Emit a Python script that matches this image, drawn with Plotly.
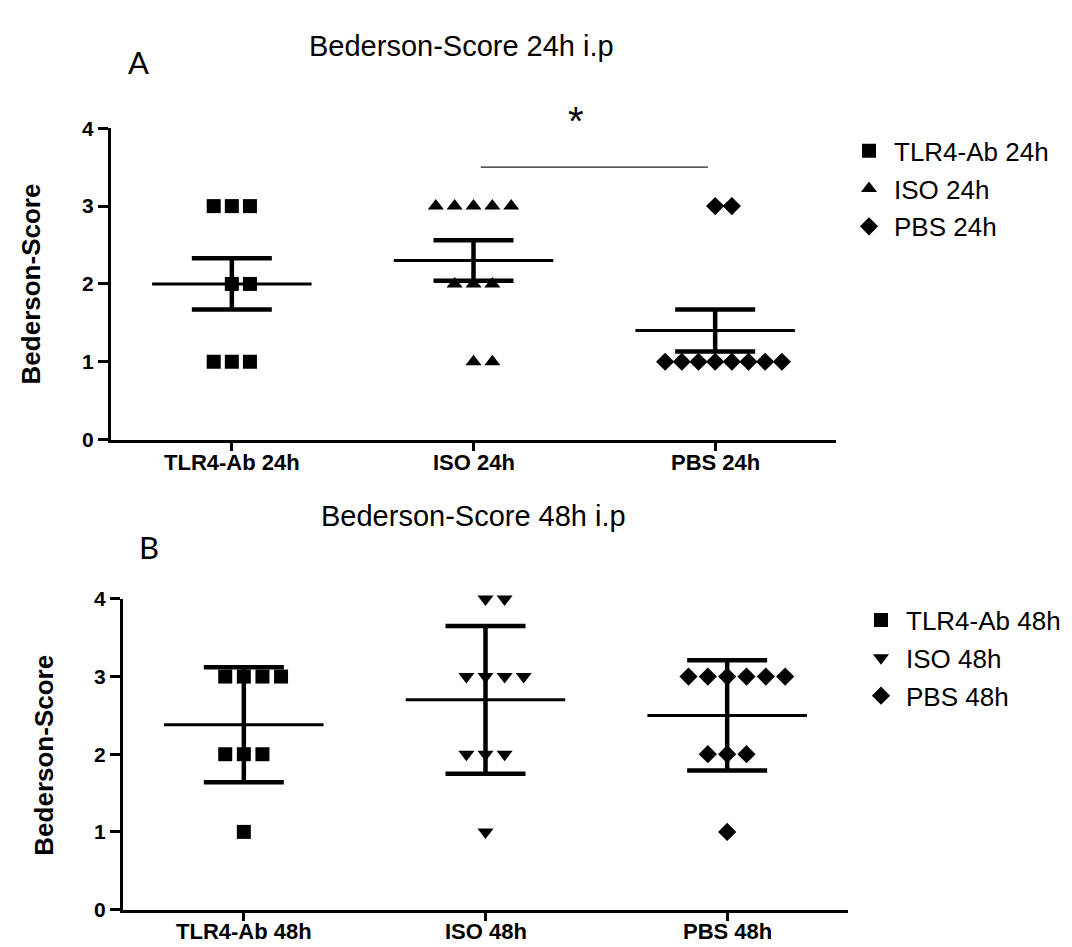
import plotly.graph_objects as go

# ---------------- data ----------------
groups_A = ["TLR4-Ab 24h", "ISO 24h", "PBS 24h"]
groups_B = ["TLR4-Ab 48h", "ISO 48h", "PBS 48h"]
ticks_y = [0, 1, 2, 3, 4]

tlr4_24 = [3, 3, 3, 2, 2, 1, 1, 1]
iso_24 = [3, 3, 3, 3, 3, 2, 2, 2, 1, 1]
pbs_24 = [3, 3, 1, 1, 1, 1, 1, 1, 1, 1]
mean_24 = [2.0, 2.3, 1.4]
sem_24 = [0.33, 0.26, 0.27]

tlr4_48 = [3, 3, 3, 3, 2, 2, 2, 1]
iso_48 = [4, 4, 3, 3, 3, 3, 2, 2, 2, 1]
pbs_48 = [3, 3, 3, 3, 3, 3, 2, 2, 2, 1]
mean_48 = [2.38, 2.7, 2.5]
sd_48 = [0.74, 0.95, 0.71]

sig_pair_A = [1, 2]   # ISO 24h vs PBS 24h
sig_level_A = 3.5
sig_text_A = "*"

# ---------------- helpers ----------------
def spread(values, center, step):
    xs, ys = [], []
    seen = {}
    for v in values:
        seen[v] = seen.get(v, 0) + 1
    idx = {}
    for v in values:
        n = seen[v]
        i = idx.get(v, 0)
        idx[v] = i + 1
        xs.append(center + (i - (n - 1) // 2) * step)
        ys.append(v)
    return xs, ys

FONT = "Liberation Sans, Arial, sans-serif"
fig = go.Figure()

symbols_A = ["square", "triangle-up", "diamond"]
symbols_B = ["square", "triangle-down", "diamond"]
sizes = {"square": 14, "triangle-up": 14, "triangle-down": 14, "diamond": 14}

def add_panel(groups, data, means, errs, symbols, xa, ya, legend, step):
    for i, (g, vals, sym) in enumerate(zip(groups, data, symbols)):
        xs, ys = spread(vals, i, step[i])
        fig.add_trace(go.Scatter(
            x=xs, y=ys, mode="markers", name=g,
            marker=dict(symbol=sym, size=sizes[sym], color="black",
                        line=dict(width=0)),
            xaxis=xa, yaxis=ya, legend=legend, cliponaxis=False,
            legendgroup=legend + g,
        ))
    # error bars
    fig.add_trace(go.Scatter(
        x=list(range(len(groups))), y=means, mode="markers",
        marker=dict(size=1, color="rgba(0,0,0,0)"),
        error_y=dict(type="data", array=errs, symmetric=True,
                     color="black", thickness=4.5, width=40),
        xaxis=xa, yaxis=ya, showlegend=False, hoverinfo="skip",
    ))
    # mean lines
    lx, ly = [], []
    for i, m in enumerate(means):
        lx += [i - 0.33, i + 0.33, None]
        ly += [m, m, None]
    fig.add_trace(go.Scatter(
        x=lx, y=ly, mode="lines", line=dict(color="black", width=3),
        xaxis=xa, yaxis=ya, showlegend=False, hoverinfo="skip",
    ))

add_panel(groups_A, [tlr4_24, iso_24, pbs_24], mean_24, sem_24, symbols_A,
          "x", "y", "legend", [0.075, 0.078, 0.069])
add_panel(groups_B, [tlr4_48, iso_48, pbs_48], mean_48, sd_48, symbols_B,
          "x2", "y2", "legend2", [0.077, 0.079, 0.080])

W, H = 1072, 947
def px(x):
    return x / W
def py(y):
    return 1 - y / H

xaxis_common = dict(
    range=[-0.5, 2.5], tickmode="array", tickvals=[0, 1, 2],
    showticklabels=False,
    showline=True, linecolor="black", linewidth=3,
    ticks="outside", ticklen=8, tickwidth=2.5, tickcolor="black",
    showgrid=False, zeroline=False,
)
yaxis_common = dict(
    range=[0, 4], tickvals=ticks_y,
    showline=True, linecolor="black", linewidth=3,
    ticks="outside", ticklen=10, tickwidth=2.5, tickcolor="black",
    showgrid=False, zeroline=False,
    tickfont=dict(family=FONT, size=21, color="black", weight="bold"),
)

fig.update_layout(
    width=W, height=H,
    margin=dict(l=0, r=0, t=0, b=0),
    paper_bgcolor="white", plot_bgcolor="white",
    xaxis=dict(domain=[px(103), px(828)], anchor="y", **xaxis_common),
    yaxis=dict(domain=[py(430), py(111)], anchor="x", **yaxis_common),
    xaxis2=dict(domain=[px(115), px(840)], anchor="y2", **xaxis_common),
    yaxis2=dict(domain=[py(911.7), py(593.3)], anchor="x2", **yaxis_common),
    legend=dict(x=px(836), y=py(110), xanchor="left", yanchor="top",
                font=dict(family=FONT, size=26, color="black"),
                bgcolor="rgba(0,0,0,0)", itemwidth=40, tracegroupgap=1),
    legend2=dict(x=px(848), y=py(591), xanchor="left", yanchor="top",
                 font=dict(family=FONT, size=26, color="black"),
                 bgcolor="rgba(0,0,0,0)", itemwidth=40, tracegroupgap=1),
    showlegend=True,
)

# category labels (drawn as annotations for tight placement)
for xa, groups, ymid in [("x", groups_A, 454), ("x2", groups_B, 934)]:
    for i, g in enumerate(groups):
        fig.add_annotation(text=g, x=i, y=py(ymid), xref=xa, yref="paper",
                           xanchor="center", yanchor="middle", showarrow=False,
                           font=dict(family=FONT, size=22, color="black", weight="bold"))

# significance bar
fig.add_shape(type="line", xref="x", yref="y",
              x0=sig_pair_A[0] + 0.03, x1=sig_pair_A[1] - 0.03,
              y0=sig_level_A, y1=sig_level_A,
              line=dict(color="#222222", width=1.2))
fig.add_annotation(x=px(568), y=py(104), xref="paper", yref="paper", text=sig_text_A,
                   xanchor="center", yanchor="middle",
                   showarrow=False, font=dict(family=FONT, size=40, color="black"))

# titles and panel letters
ann = [
    dict(text="Bederson-Score 24h i.p", x=px(453), y=py(27), size=29, fam=FONT),
    dict(text="Bederson-Score 48h i.p", x=px(465), y=py(508), size=29, fam=FONT),
    dict(text="A", x=px(130), y=py(43), size=31, fam="Lato, sans-serif"),
    dict(text="B", x=px(141), y=py(540), size=31, fam="Lato, sans-serif"),
]
for a in ann:
    fig.add_annotation(text=a["text"], x=a["x"], y=a["y"], xref="paper", yref="paper",
                       xanchor="center", yanchor="middle", showarrow=False,
                       font=dict(family=a["fam"], size=a["size"], color="black"))

for x, y in [(px(23), py(271)), (px(36), py(754))]:
    fig.add_annotation(text="Bederson-Score", x=x, y=y, xref="paper", yref="paper",
                       xanchor="center", yanchor="middle", showarrow=False, textangle=-90,
                       font=dict(family=FONT, size=26, color="black", weight="bold"))

fig.write_html("out.html")
